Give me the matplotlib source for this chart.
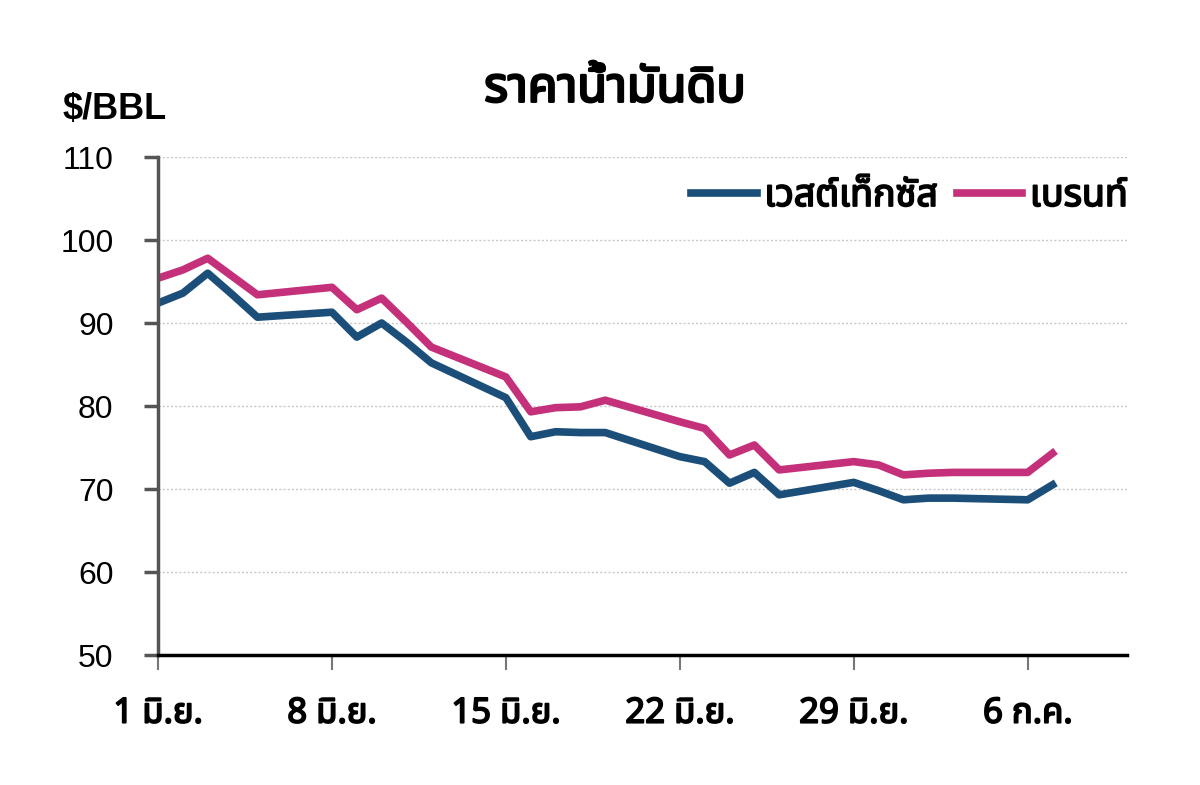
import matplotlib
matplotlib.use("Agg")
import matplotlib.pyplot as plt
import matplotlib.patheffects as pe
from matplotlib import font_manager
from matplotlib.ft2font import FT2Font

# days counted from 1 Jun (31 = 1 Jul, 36 = 6 Jul)
days = [1, 2, 3, 4, 5, 8, 9, 10, 11, 12, 15, 16, 17, 18, 19,
        22, 23, 24, 25, 26, 29, 30, 31, 32, 33, 36, 37]
wti = [92.4, 93.6, 96.0, 93.4, 90.7, 91.3, 88.3, 90.0, 87.7, 85.2, 81.0,
       76.3, 76.9, 76.8, 76.8, 73.9, 73.3, 70.7, 72.0, 69.3, 70.8, 69.8,
       68.7, 68.9, 68.9, 68.7, 70.5]
brent = [95.4, 96.4, 97.8, 95.6, 93.4, 94.3, 91.6, 93.0, 90.1, 87.1, 83.5,
         79.3, 79.8, 79.9, 80.7, 78.1, 77.3, 74.1, 75.3, 72.3, 73.3, 72.9,
         71.7, 71.9, 72.0, 72.0, 74.3]
tick_days = [1, 8, 15, 22, 29, 36]
tick_labels = ["1 มิ.ย.", "8 มิ.ย.", "15 มิ.ย.", "22 มิ.ย.", "29 มิ.ย.", "6 ก.ค."]
series_names = ["เวสต์เท็กซัส", "เบรนท์"]


def find_thai_font():
    names = []
    for f in font_manager.fontManager.ttflist:
        try:
            if 0x0E23 in FT2Font(f.fname).get_charmap():
                names.append(f.name)
        except Exception:
            pass
    for pref in ["Noto Sans Thai", "Noto Sans Thai Looped", "Loma", "Garuda", "Sarabun"]:
        if pref in names:
            return pref
    return names[0] if names else "DejaVu Sans"


thai = find_thai_font()
plt.rcParams["font.family"] = [thai, "Liberation Sans", "DejaVu Sans"]
# the Thai face has no bold here, so thicken it with a stroke
fake_bold = [pe.withStroke(linewidth=1.3, foreground="black")]

fig = plt.figure(figsize=(12, 7.85), dpi=100)
ax = fig.add_axes([0.1317, 0.1656, 0.8075, 0.6344])

ax.plot(days, wti, color="#1b4f7a", lw=5.5, label=series_names[0])
ax.plot(days, brent, color="#c4317a", lw=5.5, label=series_names[1])

ax.set_xlim(1, 40)
ax.set_ylim(50, 110)
ax.set_yticks(range(50, 111, 10))
ax.set_xticks(tick_days)
ax.set_xticklabels(tick_labels, fontsize=25)
for lab in ax.get_xticklabels():
    lab.set_path_effects(fake_bold)
for lab in ax.get_yticklabels():
    lab.set_family(["Liberation Sans", "DejaVu Sans"])
ax.tick_params(axis="y", labelsize=23, length=10, width=2.5, color="#555555", pad=22)
ax.tick_params(axis="x", length=11, width=1.5, color="#777777", pad=19)

ax.grid(axis="y", color="#c8c8c8", linestyle=(0, (1.5, 1.5)), lw=1)
for s in ["top", "right"]:
    ax.spines[s].set_visible(False)
ax.spines["left"].set_color("#555555")
ax.spines["left"].set_linewidth(2.5)
ax.spines["bottom"].set_color("black")
ax.spines["bottom"].set_linewidth(2.5)

leg = ax.legend(loc="upper right", ncol=2, frameon=False, fontsize=27,
                handlelength=1.75, handletextpad=0.2, columnspacing=0.5,
                bbox_to_anchor=(1.016, 0.99), borderaxespad=0)
for t in leg.get_texts():
    t.set_path_effects(fake_bold)

fig.text(0.5125, 0.887, "ราคาน้ำมันดิบ", ha="center", va="center",
         fontsize=35, path_effects=[pe.withStroke(linewidth=1.8, foreground="black")])
fig.text(0.0525, 0.86, "$/BBL", ha="left", va="center", fontsize=26,
         fontweight="bold", family=["Liberation Sans", "DejaVu Sans"])

fig.savefig("out.png", dpi=100)
